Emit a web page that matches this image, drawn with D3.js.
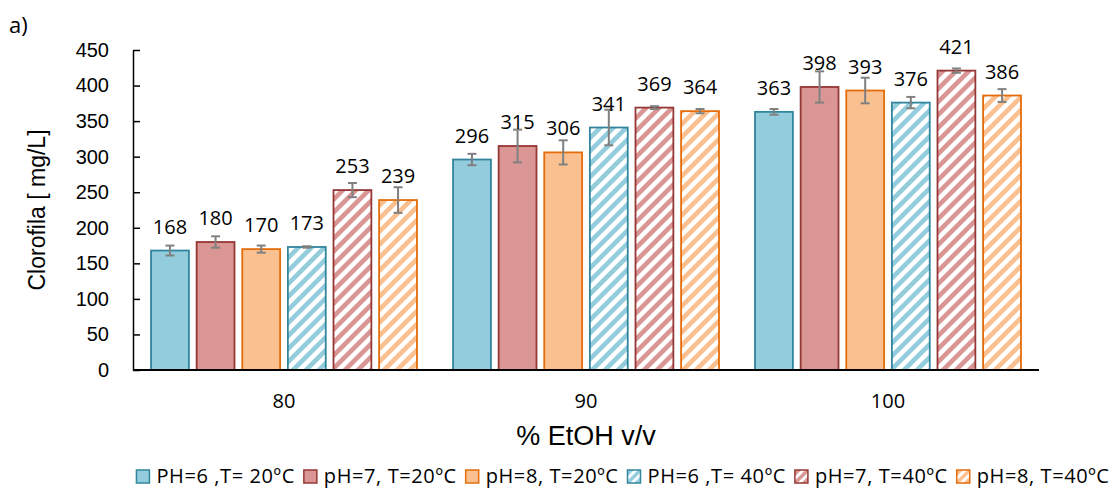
<!DOCTYPE html>
<html>
<head>
<meta charset="utf-8">
<script src="https://cdn.jsdelivr.net/npm/d3@7"></script>
<style>
  body { margin: 0; background: #fff; }
  svg { display: block; font-family: "Open Sans", sans-serif; }
</style>
</head>
<body>
<svg id="chart"></svg>
<script>
// DATA
const categories = ["80", "90", "100"]
const seriesNames = ["PH=6 ,T= 20ºC", "pH=7, T=20ºC", "pH=8, T=20ºC", "PH=6 ,T= 40ºC", "pH=7, T=40ºC", "pH=8, T=40ºC"]
const yTicks = [0, 50, 100, 150, 200, 250, 300, 350, 400, 450]

const ph6_20 = [168, 296, 363]
const ph7_20 = [180, 315, 398]
const ph8_20 = [170, 306, 393]
const ph6_40 = [173, 341, 376]
const ph7_40 = [253, 369, 421]
const ph8_40 = [239, 364, 386]

const err6_20 = [7, 8, 4]
const err7_20 = [8, 23, 22]
const err8_20 = [5, 17, 18]
const err6_40 = [1, 25, 8]
const err7_40 = [10, 2, 3]
const err8_40 = [18, 3, 9]

const values = [ph6_20, ph7_20, ph8_20, ph6_40, ph7_40, ph8_40]
const errors = [err6_20, err7_20, err8_20, err6_40, err7_40, err8_40]

// styles per series
const fills = ["#93cddd", "#d99694", "#fac090", "#93cddd", "#d99694", "#fac090"]
const strokes = ["#31859c", "#953735", "#e46c0a", "#31859c", "#953735", "#e46c0a"]
const hatched = [false, false, false, true, true, true]

const W = 1115, H = 489
const svg = d3.select("#chart").attr("width", W).attr("height", H)

// hatch patterns
const defs = svg.append("defs")
function makePattern(id, color, size, sw) {
  const p = defs.append("pattern")
    .attr("id", id)
    .attr("patternUnits", "userSpaceOnUse")
    .attr("width", size).attr("height", size)
  p.append("rect").attr("width", size).attr("height", size).attr("fill", "#fff")
  p.append("path")
    .attr("d", `M0,${size} L${size},0 M${-size / 2},${size / 2} L${size / 2},${-size / 2} M${size / 2},${size * 1.5} L${size * 1.5},${size / 2}`)
    .attr("stroke", color)
    .attr("stroke-width", sw)
}
fills.forEach((c, i) => {
  if (hatched[i]) {
    makePattern("hatch" + i, c, 13, 4.6)
    makePattern("lhatch" + i, c, 9, 3.4)
  }
})

const plot = {left: 133, right: 1039, top: 50, bottom: 370}

const x0 = d3.scaleBand()
  .domain(categories)
  .range([plot.left, plot.right])

const x1 = d3.scaleBand()
  .domain(d3.range(seriesNames.length))
  .range([0, x0.bandwidth()])
  .paddingInner(0.17)
  .paddingOuter(0.395)

const y = d3.scaleLinear()
  .domain([0, 450])
  .range([plot.bottom, plot.top])

// y axis
const yAxis = svg.append("g")
  .attr("transform", "translate(" + plot.left + ",0)")
  .call(d3.axisLeft(y).tickValues(yTicks).tickSizeInner(-7).tickSizeOuter(0).tickPadding(24))
yAxis.select(".domain").attr("stroke", "#000").attr("stroke-width", 1.5)
yAxis.selectAll(".tick line").attr("stroke", "#000").attr("stroke-width", 1.5)
yAxis.selectAll(".tick text")
  .attr("font-family", null)
  .attr("font-size", 20)
  .attr("fill", "#000")

// bars
const rows = []
values.forEach((vals, s) => {
  vals.forEach((v, c) => {
    rows.push({s: s, cat: categories[c], value: v, err: errors[s][c]})
  })
})

const bars = svg.append("g")
bars.selectAll("rect")
  .data(rows)
  .join("rect")
    .attr("x", d => x0(d.cat) + x1(d.s))
    .attr("y", d => y(d.value))
    .attr("width", x1.bandwidth())
    .attr("height", d => y(0) - y(d.value))
    .attr("fill", d => hatched[d.s] ? "url(#hatch" + d.s + ")" : fills[d.s])
    .attr("stroke", d => strokes[d.s])
    .attr("stroke-width", 1.8)

// error bars
const eb = svg.append("g").attr("stroke", "#808080").attr("stroke-width", 2)
rows.forEach(d => {
  const cx = x0(d.cat) + x1(d.s) + x1.bandwidth() / 2
  const y1 = y(d.value + d.err), y2 = y(d.value - d.err)
  eb.append("line").attr("x1", cx).attr("x2", cx).attr("y1", y1).attr("y2", y2)
  eb.append("line").attr("x1", cx - 4.5).attr("x2", cx + 4.5).attr("y1", y1).attr("y2", y1)
  eb.append("line").attr("x1", cx - 4.5).attr("x2", cx + 4.5).attr("y1", y2).attr("y2", y2)
})

// value labels
svg.append("g").selectAll("text")
  .data(rows)
  .join("text")
    .attr("x", d => x0(d.cat) + x1(d.s) + x1.bandwidth() / 2)
    .attr("y", d => y(d.value) - 17)
    .attr("text-anchor", "middle")
    .attr("font-size", 20)
    .attr("fill", "#000")
    .text(d => d.value)

// x axis
svg.append("line")
  .attr("x1", plot.left).attr("x2", plot.right)
  .attr("y1", y(0)).attr("y2", y(0))
  .attr("stroke", "#000").attr("stroke-width", 1.8)

svg.append("g").selectAll("text")
  .data(categories)
  .join("text")
    .attr("x", d => x0(d) + x0.bandwidth() / 2)
    .attr("y", 408)
    .attr("text-anchor", "middle")
    .attr("font-size", 20)
    .text(d => d)

// titles
svg.append("text")
  .attr("x", (plot.left + plot.right) / 2)
  .attr("y", 445)
  .attr("text-anchor", "middle")
  .attr("font-family", "'Liberation Sans', Arial, sans-serif")
  .attr("font-size", 27)
  .text("% EtOH v/v")

svg.append("text")
  .attr("transform", "translate(45," + ((plot.top + plot.bottom) / 2) + ") rotate(-90)")
  .attr("text-anchor", "middle")
  .attr("font-family", "'Liberation Sans', Arial, sans-serif")
  .attr("font-size", 23)
  .text("Clorofila [ mg/L]")

svg.append("text")
  .attr("x", 9)
  .attr("y", 33)
  .attr("font-size", 22)
  .text("a)")

// legend
const legend = svg.append("g")
const items = seriesNames.map((name, i) => {
  const g = legend.append("g")
  g.append("rect")
    .attr("width", 13).attr("height", 13)
    .attr("y", -13)
    .attr("fill", hatched[i] ? "url(#lhatch" + i + ")" : fills[i])
    .attr("stroke", strokes[i])
    .attr("stroke-width", 1.5)
  const t = g.append("text")
    .attr("x", 20)
    .attr("font-size", 20)
    .attr("letter-spacing", 0.6)
    .text(name)
  return {g: g, w: 20 + t.node().getComputedTextLength()}
})
const gap = 9
const total = d3.sum(items, d => d.w) + gap * (items.length - 1)
let lx = 623 - total / 2
items.forEach(it => {
  it.g.attr("transform", "translate(" + lx + ",483)")
  lx += it.w + gap
})
</script>
</body>
</html>
